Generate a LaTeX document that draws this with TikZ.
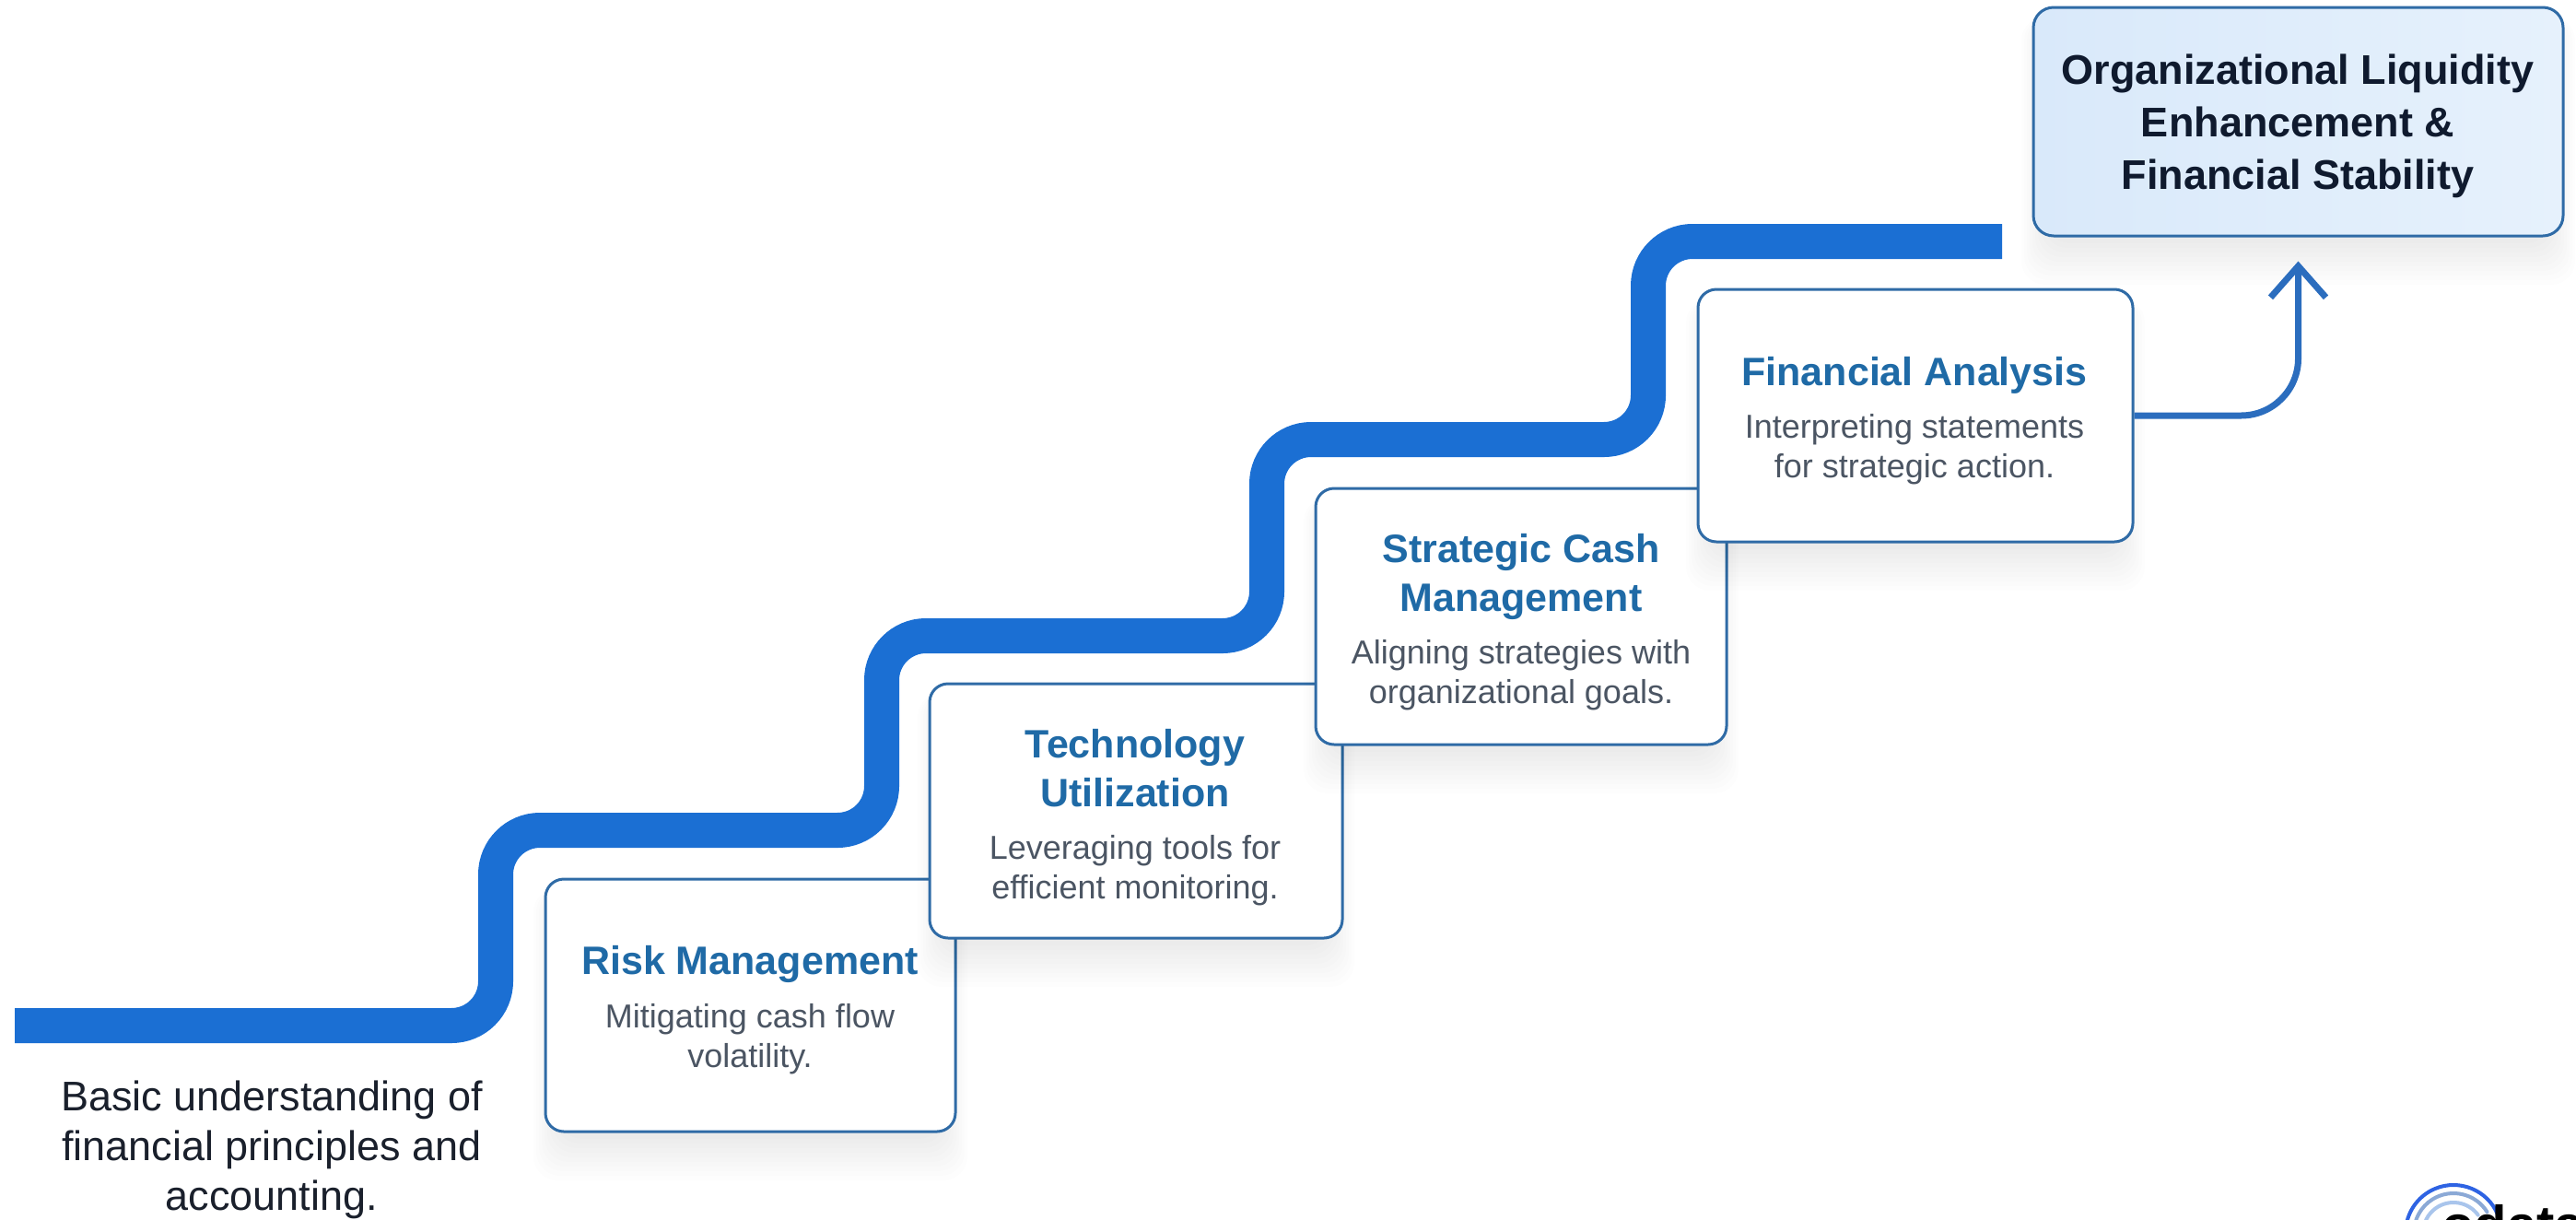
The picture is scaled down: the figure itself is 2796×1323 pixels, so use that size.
\documentclass[tikz,border=0pt]{standalone}
\usepackage{fontspec}
\setmainfont{Liberation Sans}
\usetikzlibrary{arrows.meta,calc}
\definecolor{ribbon}{HTML}{1B6FD3}
\definecolor{edge}{HTML}{2F6BA6}
\definecolor{titleblue}{HTML}{1F6AA6}
\definecolor{descgrey}{HTML}{4B5563}
\definecolor{basetext}{HTML}{1A202C}
\definecolor{goaltext}{HTML}{0F1A2E}
\definecolor{goalA}{HTML}{D9E9FA}
\definecolor{goalB}{HTML}{E6F1FC}
\definecolor{arrowblue}{HTML}{2B6DBE}
\definecolor{logoA}{HTML}{2E63E3}
\definecolor{logoB}{HTML}{8BA9D6}
\definecolor{logoC}{HTML}{A9C5EC}
\tikzset{
  x=1pt,y=-1pt,
  cardbox/.style={draw=edge,line width=3pt,fill=white,rounded corners=20pt,inner sep=0pt},
  goalbox/.style={draw=edge,line width=3pt,left color=goalA,right color=goalB,rounded corners=22pt,inner sep=0pt},
  cardtitle/.style={anchor=base,align=center,inner sep=0pt,text=titleblue,font=\fontsize{43}{53}\selectfont\bfseries},
  carddesc/.style={anchor=base,align=center,inner sep=0pt,text=descgrey,font=\fontsize{36}{43}\selectfont},
  goaltitle/.style={anchor=base,align=center,inner sep=0pt,text=goaltext,font=\fontsize{45}{57}\selectfont\bfseries},
  basenote/.style={anchor=base,align=center,inner sep=0pt,text=basetext,font=\fontsize{45}{54}\selectfont},
  ribbonline/.style={draw=ribbon,line width=38pt,rounded corners=48pt,line cap=butt},
  resultarrow/.style={draw=arrowblue,line width=7pt,rounded corners=62pt,-{Straight Barb[length=34pt,width=60pt,line width=7pt]},shorten >=26pt},
  softlayer/.style={fill=black,opacity=0.008,draw=none},
  logoarc/.style={line width=4pt,line cap=round}
}
% name, x1,y1,x2,y2, style
\newcommand{\placecard}[6]{%
  \foreach \g in {0,5,...,45}{
    \path[softlayer,rounded corners=26pt] (#2+14-\g*0.6,#3+10) rectangle (#4-14+\g*0.6,#5+8+\g*1.0);
  }
  \node[#6,minimum width=#4-#2,minimum height=#5-#3,anchor=center] (#1) at ({(#2+#4)/2},{(#3+#5)/2}) {};
}
\begin{document}
\begin{tikzpicture}
\useasboundingbox (0,0) rectangle (2796,1323);
\fill[white] (0,0) rectangle (2796,1323);

\coordinate (pathstart) at (16,1113);
\coordinate (pathend) at (2173,262);
\draw[ribbonline] (pathstart) -- (538,1113) -- (538,901) -- (957,901) -- (957,690) -- (1375,690) -- (1375,477) -- (1789,477) -- (1789,262) -- (pathend);

\placecard{risk}{592}{954}{1037}{1228}{cardbox}
\node[cardtitle] (risktitle) at (814,1057) {Risk Management};
\node[carddesc] (riskdesc) at (814,1158) {Mitigating cash flow\\volatility.};

\placecard{tech}{1009}{742}{1457}{1018}{cardbox}
\node[cardtitle] (techtitle) at (1232,875) {Technology\\Utilization};
\node[carddesc] (techdesc) at (1232,975) {Leveraging tools for\\efficient monitoring.};

\placecard{cash}{1428}{530}{1874}{808}{cardbox}
\node[cardtitle] (cashtitle) at (1651,663) {Strategic Cash\\Management};
\node[carddesc] (cashdesc) at (1651,763) {Aligning strategies with\\organizational goals.};

\placecard{fin}{1843}{314}{2315}{588}{cardbox}
\node[cardtitle] (fintitle) at (2078,418) {Financial Analysis};
\node[carddesc] (findesc) at (2078,518) {Interpreting statements\\for strategic action.};

\placecard{goal}{2207}{8}{2782}{256}{goalbox}
\node[goaltitle] (goaltitle) at (2494,205) {Organizational Liquidity\\Enhancement \&\\Financial Stability};

\draw[resultarrow] (fin.east) -- (fin.east -| goal.south) -- (goal.south);

\node[basenote] (note) at (295,1313) {Basic understanding of\\financial principles and\\accounting.};

\begin{scope}
\clip (2500,1240) rectangle (2796,1323);
\coordinate (logocentre) at (2663,1338);
\draw[logoarc,logoA] (logocentre) ++(-22.6:52) arc[start angle=22.6,end angle=180,radius=52pt];
\draw[logoarc,logoB] (logocentre) ++(-32:43) arc[start angle=32,end angle=180,radius=43pt];
\draw[logoarc,logoC] (logocentre) ++(-36:33) arc[start angle=36,end angle=180,radius=33pt];
\node[anchor=base west,inner sep=0pt,text=black,font=\fontsize{58}{60}\selectfont\bfseries] (logotext) at (2650,1349) {odata};
\end{scope}
\end{tikzpicture}
\end{document}
